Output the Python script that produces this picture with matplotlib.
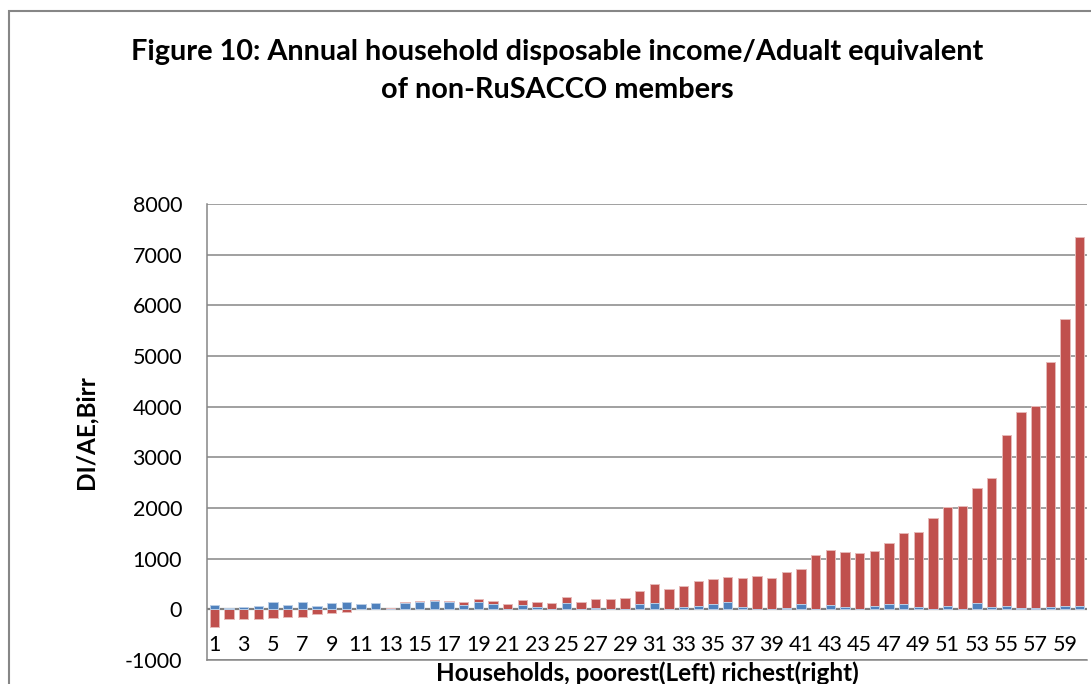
import matplotlib
matplotlib.use("Agg")
import matplotlib.pyplot as plt
from matplotlib.patches import Rectangle
import numpy as np

# Households 1..60, ordered poorest (left) to richest (right)
households = list(range(1, 61))

# DI/AE (Birr), drawn behind
di_ae = [-345, -200, -200, -193, -178, -152, -152, -100, -66, -55,
         10, 15, 25, 152, 170, 191, 172, 139, 211, 172,
         99, 178, 152, 119, 244, 139, 205, 211, 231, 355,
         494, 401, 454, 553, 592, 645, 619, 665, 626, 730,
         792, 1073, 1165, 1132, 1106, 1158, 1310, 1508, 1528, 1798,
         2013, 2046, 2389, 2587, 3435, 3903, 4007, 4884, 5726, 7350]

# second series, drawn in front
second = [80, 33, 53, 73, 145, 92, 145, 73, 132, 152,
          106, 119, 0, 125, 145, 158, 145, 86, 145, 106,
          0, 92, 53, 0, 119, 0, 20, 15, 0, 105,
          132, 10, 53, 72, 105, 145, 40, 10, 0, 20,
          105, 0, 92, 40, 0, 60, 105, 105, 40, 0,
          72, 0, 119, 40, 72, 20, 20, 40, 72, 72]

y_ticks = list(range(-1000, 9000, 1000))
x_tick_labels = [str(h) for h in households[::2]]

plt.rcParams['font.family'] = ['Lato', 'DejaVu Sans']

fig = plt.figure(figsize=(10.91, 6.84), dpi=100)
ax = fig.add_axes([207 / 1091, 24 / 684, 880 / 1091, 456 / 684])

x = np.array(households)
ax.bar(x, di_ae, width=0.64, color='#c0504d', edgecolor='#e6b9b8', linewidth=0.7, zorder=3)
ax.bar(x, second, width=0.64, color='#4f81bd', edgecolor='#b9cde5', linewidth=0.7, zorder=4)

ax.set_xlim(0.5, 60.5)
ax.set_ylim(-1000, 8000)
ax.set_yticks(y_ticks)
ax.set_yticklabels([str(v) for v in y_ticks])
ax.set_xticks(households[::2])
ax.set_xticklabels(x_tick_labels)

ax.grid(axis='y', color='#868686', linewidth=1.1, zorder=1)
ax.axhline(0, color='#808080', linewidth=1.6, zorder=2)

for side in ['top', 'right']:
    ax.spines[side].set_visible(False)
for side in ['left', 'bottom']:
    ax.spines[side].set_color('#868686')
    ax.spines[side].set_linewidth(1.1)

ax.tick_params(axis='y', length=0, pad=18, labelsize=15.5)
ax.tick_params(axis='x', length=0, pad=-18, labelsize=15.5)

ax.set_xlabel('Households, poorest(Left) richest(right)', fontsize=17.5, fontweight='bold')
ax.xaxis.set_label_coords(0.5, -0.002)
ax.set_ylabel('DI/AE,Birr', fontsize=17.5, fontweight='bold')
ax.yaxis.set_label_coords(-0.125, 0.5)

fig.text(557 / 1091, 1 - 71 / 684,
         'Figure 10: Annual household disposable income/Adualt equivalent\nof non-RuSACCO members',
         ha='center', va='center', fontsize=20.8, fontweight='bold', linespacing=1.55)

# chart frame
fig.patches.append(Rectangle((9 / 1091, -0.2), 1.2, 1.2 - 11 / 684,
                             transform=fig.transFigure, fill=False,
                             edgecolor='#868686', linewidth=1.5))

fig.savefig('out.png', dpi=100)
